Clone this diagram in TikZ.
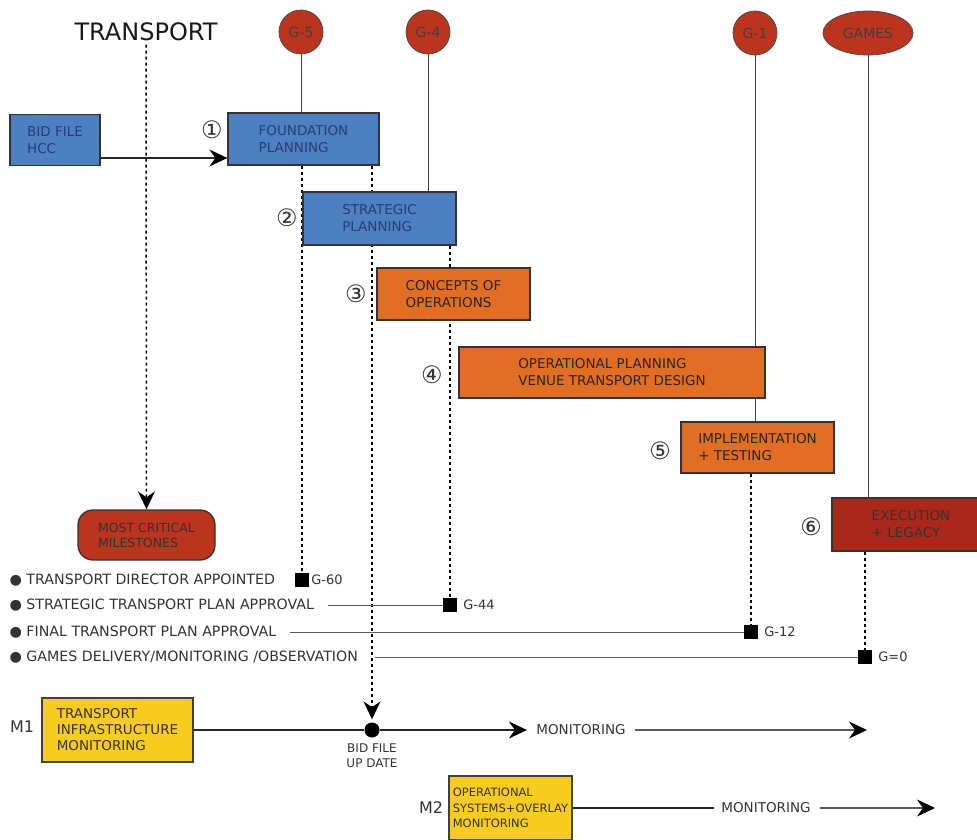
\documentclass[tikz,border=0pt]{standalone}
\usepackage{fontspec}
\setmainfont{DejaVu Sans}
\usetikzlibrary{arrows.meta, positioning, shapes.geometric}
\definecolor{boxBlue}{RGB}{76,128,194}
\definecolor{boxOrange}{RGB}{226,110,36}
\definecolor{gateRed}{RGB}{188,52,30}
\definecolor{execRed}{RGB}{170,40,26}
\definecolor{boxYellow}{RGB}{248,204,30}
\definecolor{textBlue}{RGB}{42,62,112}
\definecolor{lineGray}{gray}{0.35}
\definecolor{textGray}{gray}{0.2}
\pgfdeclarelayer{background}
\pgfsetlayers{background,main}

\tikzset{
  phase/.style={rectangle, draw=black!80, line width=1.3pt, align=left, inner sep=2pt,
    font=\fontsize{13.5}{17}\selectfont},
  bluephase/.style={phase, fill=boxBlue, text=textBlue},
  orangephase/.style={phase, fill=boxOrange, text=black!85},
  redphase/.style={phase, fill=execRed, text=black!80},
  gate/.style={circle, fill=gateRed, draw=black!70, thick, minimum size=44pt, inner sep=0pt,
    text=black!75, font=\fontsize{14}{14}\selectfont},
  gameoval/.style={ellipse, fill=gateRed, draw=black!70, thick, minimum width=90pt,
    minimum height=44pt, inner sep=0pt, text=black!75, font=\fontsize{14}{14}\selectfont},
  stepnum/.style={font=\fontsize{24}{24}\selectfont, text=black!80},
  monbox/.style={rectangle, fill=boxYellow, draw=black!75, line width=1.3pt, align=left,
    text=black!80, inner sep=2pt},
  msquare/.style={rectangle, fill=black, minimum size=14pt, inner sep=0pt},
  mslabel/.style={anchor=west, text=textGray, font=\fontsize{14.2}{14}\selectfont},
  glabel/.style={anchor=west, text=textGray, font=\fontsize{13}{13}\selectfont, inner sep=2pt},
  tick/.style={dash pattern=on 3pt off 3pt, line width=1.5pt, black},
  gateline/.style={line width=1pt, black!75},
  msline/.style={line width=1pt, lineGray},
  bigarrow/.style={-{Stealth[length=18pt, width=17pt, inset=6pt, color=black]}}
}

\begin{document}
\begin{tikzpicture}[x=1pt, y=-1pt]
  \useasboundingbox (0,0) rectangle (977,840);

  % heading and gates
  \node[font=\fontsize{24}{24}\selectfont, text=black!90] (title) at (146,32) {TRANSPORT};
  \node[gate] (g5) at (301,32) {G-5};
  \node[gate] (g4) at (428,32) {G-4};
  \node[gate] (g1) at (755,33) {G-1};
  \node[gameoval] (games) at (868,33) {GAMES};

  % phases
  \node[bluephase, minimum width=90pt, minimum height=51pt] (bid) at (55,140) {BID FILE\\HCC};
  \node[bluephase, minimum width=151pt, minimum height=52pt] (found) at (303.5,139) {FOUNDATION\\PLANNING};
  \node[bluephase, minimum width=153pt, minimum height=53pt] (strat) at (379.5,218.5) {STRATEGIC\\PLANNING};
  \node[orangephase, minimum width=153pt, minimum height=52pt] (conc) at (453.5,294) {CONCEPTS OF\\OPERATIONS};
  \node[orangephase, minimum width=306pt, minimum height=51pt] (oper) at (612,372.5) {OPERATIONAL PLANNING\\VENUE TRANSPORT DESIGN};
  \node[orangephase, minimum width=153pt, minimum height=51pt] (impl) at (757.5,447.5) {IMPLEMENTATION\\+ TESTING};
  \node[redphase, minimum width=158pt, minimum height=53pt] (exec) at (911,524.5) {EXECUTION\\+ LEGACY};
  \node[phase, fill=gateRed, text=black!80, rounded corners=15pt, minimum width=137pt,
    minimum height=50pt, font=\fontsize{12.5}{15}\selectfont] (crit) at (146.5,535) {MOST CRITICAL\\MILESTONES};

  \node[stepnum] (n1) at (212,130) {①};
  \node[stepnum] (n2) at (287,218) {②};
  \node[stepnum] (n3) at (356,294) {③};
  \node[stepnum] (n4) at (432,375) {④};
  \node[stepnum] (n5) at (660,451) {⑤};
  \node[stepnum] (n6) at (811,527) {⑥};

  % milestones
  \node[mslabel] (ms1) at (6,580) {● TRANSPORT DIRECTOR APPOINTED};
  \node[mslabel] (ms2) at (6,605) {● STRATEGIC TRANSPORT PLAN APPROVAL};
  \node[mslabel] (ms3) at (6,632) {● FINAL TRANSPORT PLAN APPROVAL};
  \node[mslabel] (ms4) at (6,657) {● GAMES DELIVERY/MONITORING /OBSERVATION};
  \node[msquare] (m60) at (302,580) {};
  \node[msquare] (m44) at (450,605) {};
  \node[msquare] (m12) at (751,632) {};
  \node[msquare] (m0) at (865,657) {};
  \node[glabel] (l60) at (m60.east) {G-60};
  \node[glabel] (l44) at ([xshift=4pt]m44.east) {G-44};
  \node[glabel] (l12) at ([xshift=4pt]m12.east) {G-12};
  \node[glabel] (l0) at ([xshift=4pt]m0.east) {G=0};

  % monitoring rows
  \node[font=\fontsize{16}{16}\selectfont, text=black!80] (lm1) at (22,727) {M1};
  \node[monbox, minimum width=151pt, minimum height=64pt, font=\fontsize{13.5}{16}\selectfont] (mon1box) at (117.5,730) {TRANSPORT\\INFRASTRUCTURE\\MONITORING};
  \node[circle, fill=black, minimum size=15pt, inner sep=0pt] (bfdot) at (372,730) {};
  \node[below=3pt of bfdot, align=center, text=textGray, font=\fontsize{12}{15}\selectfont] (bfup) {BID FILE\\UP DATE};
  \node[text=textGray, font=\fontsize{13.5}{13.5}\selectfont] (mon1) at (581,730) {MONITORING};
  \coordinate (m1end) at (867,730);

  \node[font=\fontsize{16}{16}\selectfont, text=black!80] (lm2) at (431,808) {M2};
  \node[monbox, minimum width=123pt, minimum height=64pt, font=\fontsize{11.5}{15.5}\selectfont] (mon2box) at (510.5,808) {OPERATIONAL\\SYSTEMS+OVERLAY\\MONITORING};
  \node[text=textGray, font=\fontsize{13.5}{13.5}\selectfont] (mon2) at (766,808) {MONITORING};
  \coordinate (m2end) at (935,808);

  \begin{pgfonlayer}{background}
    % gate lines
    \draw[gateline] (g5) -- (g5 |- found.north);
    \draw[gateline] (g4) -- (g4 |- strat.north);
    \draw[gateline] (g1) -- (g1 |- oper.north);
    \draw[gateline] (g1 |- oper.south) -- (g1 |- impl.north);
    \draw[gateline] (games) -- (games |- exec.north);
    % dashed drops
    \draw[tick, bigarrow] (title.south) -- (crit.north);
    \draw[tick] (found.south -| m60) -- (m60.north);
    \draw[tick, bigarrow, shorten >=3pt] (found.south -| bfdot) -- (bfdot.north);
    \draw[tick] (strat.south -| m44) -- (m44.north);
    \draw[tick] (impl.south -| m12) -- (m12.north);
    \draw[tick] (exec.south -| m0) -- (m0.north);
    % milestone lines
    \draw[msline, shorten <=10pt] (ms2.east) -- (m44.west);
    \draw[msline, shorten <=10pt] (ms3.east) -- (m12.west);
    \draw[msline, shorten <=14pt] (ms4.east) -- (m0.west);
  \end{pgfonlayer}

  \draw[line width=1.3pt, black!85, bigarrow] ([yshift=-18pt]bid.east) -- ([yshift=-19pt]found.west);
  \draw[line width=1.3pt, black!85] (mon1box.east) -- (bfdot);
  \draw[line width=1.3pt, black!85, bigarrow, shorten >=6pt] (bfdot) -- (mon1.west);
  \draw[line width=1.3pt, lineGray, bigarrow, shorten <=6pt] (mon1.east) -- (m1end);
  \draw[line width=1.3pt, black!85, shorten >=4pt] (mon2box.east) -- (mon2.west);
  \draw[line width=1.3pt, lineGray, bigarrow, shorten <=6pt] (mon2.east) -- (m2end);
\end{tikzpicture}
\end{document}
